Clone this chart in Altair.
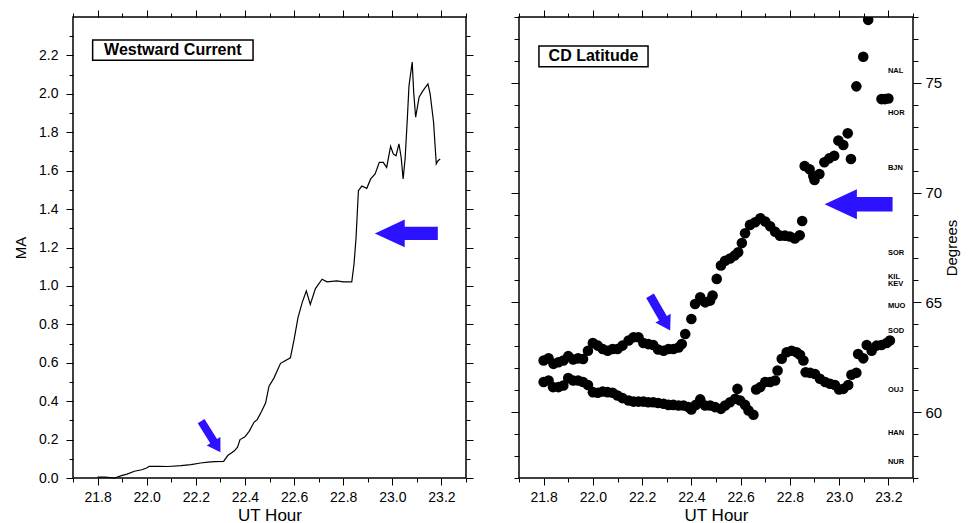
import altair as alt
import pandas as pd

# ---------------- data ----------------
# Westward Current (left panel)
wc_hour = [21.80, 21.83, 21.87, 21.897, 21.92, 21.95, 21.98, 22.0, 22.01, 22.05,
           22.086, 22.14, 22.18, 22.22, 22.25, 22.275, 22.313, 22.33, 22.356, 22.37,
           22.38, 22.40, 22.417, 22.437, 22.45, 22.468, 22.484, 22.498, 22.518, 22.545,
           22.56, 22.585, 22.60, 22.616, 22.633, 22.65, 22.666, 22.687, 22.714, 22.734,
           22.774, 22.80, 22.835, 22.844, 22.852, 22.862, 22.876, 22.896, 22.912, 22.93,
           22.947, 22.963, 22.977, 22.993, 23.004, 23.015, 23.027, 23.036, 23.044, 23.052,
           23.06, 23.068, 23.081, 23.087, 23.095, 23.109, 23.125, 23.145, 23.154, 23.168,
           23.179, 23.186, 23.195]
wc_ma = [0.005, 0.005, 0.0, 0.012, 0.02, 0.035, 0.043, 0.052, 0.061, 0.061,
         0.06, 0.064, 0.07, 0.078, 0.083, 0.085, 0.087, 0.117, 0.14, 0.16,
         0.2, 0.214, 0.243, 0.29, 0.304, 0.348, 0.39, 0.478, 0.52, 0.597,
         0.608, 0.626, 0.72, 0.835, 0.913, 0.974, 0.904, 0.986, 1.035, 1.021,
         1.026, 1.021, 1.021, 1.113, 1.243, 1.496, 1.52, 1.508, 1.557, 1.583,
         1.643, 1.643, 1.617, 1.727, 1.687, 1.678, 1.739, 1.67, 1.557, 1.661,
         1.843, 2.043, 2.165, 2.009, 1.878, 1.983, 2.017, 2.052, 2.0, 1.852,
         1.635, 1.652, 1.661]

# CD Latitude, upper track (right panel)
up_hour = [21.80, 21.82, 21.84, 21.86, 21.88, 21.90, 21.92, 21.94, 21.96, 21.98,
           22.00, 22.02, 22.04, 22.06, 22.08, 22.10, 22.12, 22.145, 22.165, 22.185,
           22.205, 22.225, 22.245, 22.265, 22.287, 22.307, 22.327, 22.348, 22.361, 22.375,
           22.40, 22.415, 22.436, 22.456, 22.476, 22.486, 22.503, 22.52, 22.537, 22.557,
           22.575, 22.59, 22.605, 22.618, 22.638, 22.659, 22.68, 22.70, 22.72, 22.74,
           22.76, 22.78, 22.80, 22.82, 22.84, 22.85, 22.86, 22.88, 22.895, 22.90,
           22.92, 22.94, 22.96, 22.98, 22.997, 23.017, 23.035, 23.048, 23.07, 23.098,
           23.118, 23.172, 23.186, 23.20]
up_deg = [62.35, 62.45, 62.2, 62.27, 62.35, 62.55, 62.4, 62.45, 62.42, 62.8,
          63.15, 63.03, 62.88, 62.8, 62.88, 62.88, 63.03, 63.26, 63.41, 63.41,
          63.15, 63.1, 63.06, 62.85, 62.8, 62.88, 62.88, 62.95, 63.1, 63.56,
          64.24, 64.93, 65.23, 65.0, 65.08, 65.31, 66.07, 66.68, 66.9, 67.0,
          67.13, 67.28, 67.7, 68.15, 68.53, 68.65, 68.83, 68.68, 68.47, 68.22,
          68.04, 68.04, 68.0, 67.91, 68.06, 68.71, 71.21, 71.06, 70.76, 70.58,
          70.85, 71.38, 71.56, 71.68, 72.37, 72.17, 72.7, 71.53, 74.84, 76.19,
          77.87, 74.26, 74.26, 74.29]

# CD Latitude, lower track (right panel)
lo_hour = [21.80, 21.82, 21.838, 21.86, 21.88, 21.90, 21.92, 21.94, 21.96, 21.98,
           22.00, 22.02, 22.04, 22.06, 22.08, 22.10, 22.12, 22.145, 22.165, 22.185,
           22.205, 22.225, 22.245, 22.265, 22.287, 22.307, 22.327, 22.348, 22.368, 22.388,
           22.40, 22.418, 22.436, 22.456, 22.476, 22.496, 22.52, 22.537, 22.557, 22.578,
           22.587, 22.598, 22.618, 22.632, 22.652, 22.663, 22.68, 22.70, 22.72, 22.74,
           22.75, 22.767, 22.787, 22.807, 22.827, 22.841, 22.855, 22.864, 22.882, 22.902,
           22.922, 22.943, 22.963, 22.983, 23.00, 23.017, 23.037, 23.05, 23.07, 23.077,
           23.098, 23.112, 23.132, 23.152, 23.172, 23.193, 23.206]
lo_deg = [61.37, 61.44, 61.14, 61.14, 61.21, 61.55, 61.44, 61.44, 61.37, 61.24,
          60.91, 60.88, 60.94, 60.91, 60.88, 60.76, 60.64, 60.53, 60.48, 60.48,
          60.48, 60.45, 60.45, 60.42, 60.38, 60.33, 60.33, 60.3, 60.3, 60.23,
          60.12, 60.33, 60.58, 60.3, 60.3, 60.23, 60.15, 60.3, 60.45, 60.61,
          61.06, 60.53, 60.33, 60.08, 59.88, 61.03, 61.14, 61.37, 61.37, 61.44,
          61.9, 62.43, 62.73, 62.8, 62.73, 62.61, 62.35, 61.82, 61.79, 61.74,
          61.52, 61.37, 61.29, 61.24, 61.03, 61.06, 61.24, 61.7, 61.79, 62.65,
          62.45, 63.06, 62.8, 63.03, 63.06, 63.15, 63.26]

# magnetometer stations and their CD latitudes
stations = ["NAL", "HOR", "BJN", "SOR", "KIL", "KEV", "MUO", "SOD", "OUJ", "HAN", "NUR"]
station_lat = [75.53, 73.64, 71.14, 67.27, 66.17, 65.83, 64.82, 63.71, 61.03, 59.05, 57.73]

# axis ticks
x_tick_values = [21.7, 21.8, 21.9, 22.0, 22.1, 22.2, 22.3, 22.4, 22.5, 22.6,
                 22.7, 22.8, 22.9, 23.0, 23.1, 23.2, 23.3]
ma_tick_values = [0.0, 0.1, 0.2, 0.3, 0.4, 0.5, 0.6, 0.7, 0.8, 0.9, 1.0, 1.1,
                  1.2, 1.3, 1.4, 1.5, 1.6, 1.7, 1.8, 1.9, 2.0, 2.1, 2.2, 2.3]
deg_tick_values = [57, 58, 59, 60, 61, 62, 63, 64, 65, 66, 67, 68, 69, 70,
                   71, 72, 73, 74, 75, 76, 77, 78]

# annotations (in data units)
left_box = {"label": ["Westward Current"], "x1": [21.78], "x2": [22.433], "y1": [2.175], "y2": [2.28]}
right_box = {"label": ["CD Latitude"], "x1": [21.781], "x2": [22.224], "y1": [75.73], "y2": [76.68]}
left_big_arrow = {"hour": [23.057], "val": [1.273]}
left_small_arrow = {"hour": [22.261], "val": [0.215], "angle": [58]}
right_big_arrow = {"hour": [23.079], "val": [69.47]}
right_small_arrow = {"hour": [22.273], "val": [64.51], "angle": [60]}

BLUE = "#2d12ff"
FONT = "Liberation Sans"
BIG_ARROW = "M -1 0 L -0.05 -0.44 L -0.05 -0.21 L 1 -0.21 L 1 0.21 L -0.05 0.21 L -0.05 0.44 Z"
SMALL_ARROW = "M 1 0 L 0.29 -0.44 L 0.29 -0.22 L -1 -0.22 L -1 0.22 L 0.29 0.22 L 0.29 0.44 Z"

X_MAJOR = "round(datum.value * 10) % 2 == 0"
D_MAJOR = "datum.value % 5 == 0"


def x_axis(orient, show):
    kw = dict(orient=orient, values=x_tick_values, grid=False, domain=False,
              tickSize={"condition": {"test": X_MAJOR, "value": 7}, "value": 4},
              labels=show)
    if show:
        kw.update(labelExpr=X_MAJOR + " ? format(datum.value, '.1f') : ''",
                  labelFontSize=14, labelPadding=5, labelFlush=False,
                  labelOverlap=False, titleFontSize=17, titlePadding=3)
    return alt.Axis(**kw)


def ma_axis(orient, show):
    kw = dict(orient=orient, values=ma_tick_values, grid=False, domain=False,
              tickSize={"condition": {"test": X_MAJOR, "value": 7}, "value": 4},
              labels=show)
    if show:
        kw.update(labelExpr=X_MAJOR + " ? format(datum.value, '.1f') : ''",
                  labelFontSize=14, labelPadding=8, labelFlush=False,
                  labelOverlap=False, titleFontSize=15, titlePadding=10)
    return alt.Axis(**kw)


def deg_axis(orient, show):
    kw = dict(orient=orient, values=deg_tick_values, grid=False, domain=False,
              tickSize={"condition": {"test": D_MAJOR, "value": 8}, "value": 5},
              labels=show)
    if show:
        kw.update(labelExpr=D_MAJOR + " ? format(datum.value, 'd') : ''",
                  labelFontSize=15, labelPadding=4, labelFlush=False,
                  labelOverlap=False, titleFontSize=15, titlePadding=3,
                  titleAngle=270, titleBaseline="top")
    return alt.Axis(**kw)


X_SCALE = alt.Scale(domain=[21.7, 23.3], nice=False, zero=False)
MA_SCALE = alt.Scale(domain=[0, 2.4], nice=False, zero=False)
DEG_SCALE = alt.Scale(domain=[57, 78], nice=False, zero=False)

# ---------------- left panel ----------------
wc_df = pd.DataFrame({"hour": wc_hour, "val": wc_ma})
XL = alt.X("hour:Q", scale=X_SCALE, axis=x_axis("bottom", True), title="UT Hour")
YL = alt.Y("val:Q", scale=MA_SCALE, axis=ma_axis("left", True), title="MA")

wc_line = alt.Chart(wc_df).mark_line(color="black", strokeWidth=1.2).encode(XL, YL)

lb = pd.DataFrame(left_box)
lbox = alt.Chart(lb).mark_rect(fill="white", stroke="black", strokeWidth=1.5).encode(
    x=alt.X("x1:Q", scale=X_SCALE, axis=x_axis("bottom", True), title="UT Hour"),
    x2="x2:Q",
    y=alt.Y("y1:Q", scale=MA_SCALE, axis=ma_axis("left", True), title="MA"),
    y2="y2:Q")
ltext = alt.Chart(lb).transform_calculate(
    cx="(datum.x1 + datum.x2) / 2", cy="(datum.y1 + datum.y2) / 2"
).mark_text(font=FONT, fontSize=16, fontWeight="bold", color="black",
            align="center", baseline="middle").encode(
    x=alt.X("cx:Q", scale=X_SCALE, axis=x_axis("bottom", True), title="UT Hour"),
    y=alt.Y("cy:Q", scale=MA_SCALE, axis=ma_axis("left", True), title="MA"),
    text="label:N")

lba = alt.Chart(pd.DataFrame(left_big_arrow)).mark_point(
    shape=BIG_ARROW, filled=True, color=BLUE, opacity=1, size=3969, strokeWidth=0
).encode(XL, YL)
lsa = alt.Chart(pd.DataFrame(left_small_arrow)).mark_point(
    shape=SMALL_ARROW, filled=True, color=BLUE, opacity=1, size=1330, strokeWidth=0
).encode(XL, YL, angle=alt.Angle("angle:Q", scale=None))

left_frame = alt.Chart(wc_df).mark_point(opacity=0, size=1).encode(
    alt.X("hour:Q", scale=X_SCALE, axis=x_axis("top", False), title=None),
    alt.Y("val:Q", scale=MA_SCALE, axis=ma_axis("right", False), title=None))

left_main = alt.layer(wc_line, lba, lsa, lbox, ltext)
left = alt.layer(left_main, left_frame).resolve_scale(
    x="independent", y="independent").properties(width=393, height=461)

# ---------------- right panel ----------------
pts_df = pd.DataFrame({"hour": up_hour + lo_hour, "val": up_deg + lo_deg})
XR = alt.X("hour:Q", scale=X_SCALE, axis=x_axis("bottom", True), title="UT Hour")
YR = alt.Y("val:Q", scale=DEG_SCALE, axis=deg_axis("left", False), title=None)

dots = alt.Chart(pts_df).mark_circle(size=112, color="black", opacity=1, clip=True).encode(XR, YR)

st_df = pd.DataFrame({"station": stations, "val": station_lat, "hour": [23.198] * len(stations)})
st_text = alt.Chart(st_df).mark_text(font=FONT, fontSize=7.5, fontWeight="bold", color="black",
                                      align="left", baseline="middle").encode(XR, YR, text="station:N")

rb = pd.DataFrame(right_box)
rbox = alt.Chart(rb).mark_rect(fill="white", stroke="black", strokeWidth=1.5).encode(
    x=alt.X("x1:Q", scale=X_SCALE, axis=x_axis("bottom", True), title="UT Hour"),
    x2="x2:Q",
    y=alt.Y("y1:Q", scale=DEG_SCALE, axis=deg_axis("left", False), title=None),
    y2="y2:Q")
rtext = alt.Chart(rb).transform_calculate(
    cx="(datum.x1 + datum.x2) / 2", cy="(datum.y1 + datum.y2) / 2"
).mark_text(font=FONT, fontSize=16, fontWeight="bold", color="black",
            align="center", baseline="middle").encode(
    x=alt.X("cx:Q", scale=X_SCALE, axis=x_axis("bottom", True), title="UT Hour"),
    y=alt.Y("cy:Q", scale=DEG_SCALE, axis=deg_axis("left", False), title=None),
    text="label:N")

rba = alt.Chart(pd.DataFrame(right_big_arrow)).mark_point(
    shape=BIG_ARROW, filled=True, color=BLUE, opacity=1, size=4624, strokeWidth=0
).encode(XR, YR)
rsa = alt.Chart(pd.DataFrame(right_small_arrow)).mark_point(
    shape=SMALL_ARROW, filled=True, color=BLUE, opacity=1, size=1620, strokeWidth=0
).encode(XR, YR, angle=alt.Angle("angle:Q", scale=None))

right_frame = alt.Chart(pts_df).mark_point(opacity=0, size=1).encode(
    alt.X("hour:Q", scale=X_SCALE, axis=x_axis("top", False), title=None),
    alt.Y("val:Q", scale=DEG_SCALE, axis=deg_axis("right", True), title="Degrees"))

right_main = alt.layer(dots, st_text, rba, rsa, rbox, rtext)
right = alt.layer(right_main, right_frame).resolve_scale(
    x="independent", y="independent").properties(width=394, height=461)

chart = alt.hconcat(left, right, spacing=53, bounds="flush").properties(
    padding={"left": 4, "top": 0, "right": 0, "bottom": 0}
).configure_view(
    stroke="black", strokeWidth=1.5
).configure_axis(
    labelFont=FONT, titleFont=FONT, labelColor="black", titleColor="black",
    titleFontWeight="normal", tickColor="black", tickWidth=1
)

chart.save("out.html", embed_options={"renderer": "svg", "actions": False})
